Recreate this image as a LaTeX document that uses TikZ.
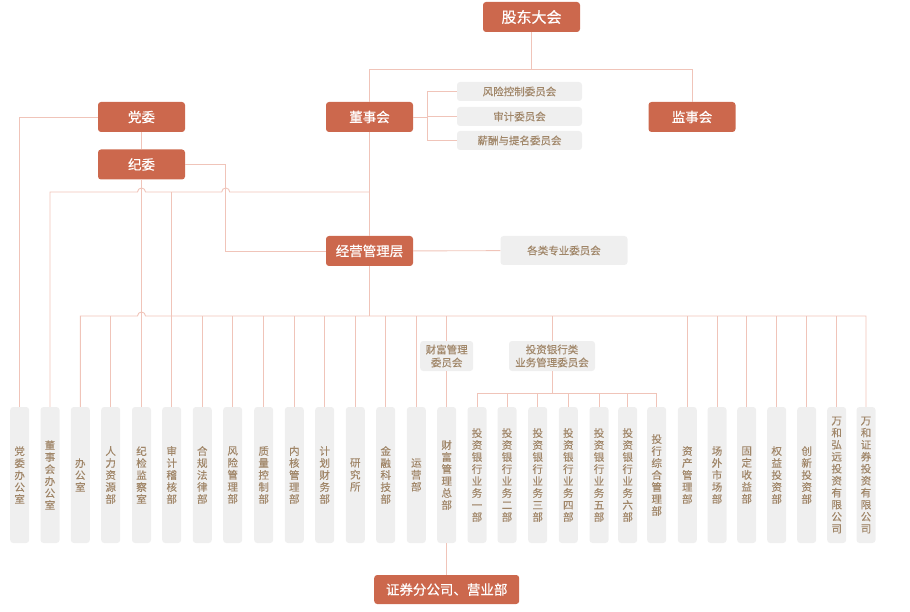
\documentclass[tikz,border=0pt]{standalone}
\usepackage{fontspec}
\setmainfont{Noto Sans CJK SC}
\newfontfamily\leadfont[FakeBold=0.5]{Noto Sans CJK SC}
\newfontfamily\deptfont[FakeBold=0.2]{Noto Sans CJK SC}
\definecolor{leadred}{RGB}{204,104,77}
\definecolor{linepink}{RGB}{240,196,185}
\definecolor{boxgrey}{RGB}{239,239,239}
\definecolor{textbrown}{RGB}{160,134,104}

\begin{document}
\begin{tikzpicture}
    [
        x=1pt, y=1pt,
        lead/.style={rectangle, rounded corners=3pt, fill=leadred, text=white, minimum width=87pt, minimum height=30pt, inner sep=0pt, font=\leadfont\fontsize{13.5}{16}\selectfont,},
        comm/.style={rectangle, rounded corners=3pt, fill=boxgrey, text=textbrown, inner sep=0pt, align=center, font=\deptfont\fontsize{10.5}{13}\selectfont,},
        dept/.style={rectangle, rounded corners=3pt, fill=boxgrey, text=textbrown, minimum width=19pt, minimum height=136pt, inner sep=0pt, align=center, font=\deptfont\fontsize{10.5}{12}\selectfont,},
        edge/.style={draw=linepink, line width=0.9pt,},
    ]
    \useasboundingbox (0,0) rectangle (910,-612);

    % leadership
    \node (gddh)  at (531.5,-17)    [lead, minimum width=97pt, font=\leadfont\fontsize{15}{18}\selectfont] {股东大会};
    \node (dsh)   at (369.5,-117)   [lead] {董事会};
    \node (jsh)   at (692,-117)     [lead] {监事会};
    \node (dw)    at (141.5,-117)   [lead] {党委};
    \node (jw)    at (141.5,-164.5) [lead] {纪委};
    \node (jyc)   at (369.5,-251)   [lead] {经营管理层};
    \node (zqfgs) at (446.7,-589.5) [lead, minimum width=145pt, minimum height=29pt] {证券分公司、营业部};

    % committees
    \node (fkwh) at (519.5,-91.5)  [comm, minimum width=125pt, minimum height=19pt] {风险控制委员会};
    \node (sjwh) at (519.5,-116.5) [comm, minimum width=125pt, minimum height=19pt] {审计委员会};
    \node (xcwh) at (519.5,-140.5) [comm, minimum width=125pt, minimum height=19pt] {薪酬与提名委员会};
    \node (zywh) at (564,-250.5)   [comm, minimum width=127pt, minimum height=29pt] {各类专业委员会};
    \node (cfwh) at (446.7,-356)   [comm, minimum width=53pt, minimum height=30pt] {财富管理\\委员会};
    \node (thwh) at (552,-356)     [comm, minimum width=86pt, minimum height=30pt] {投资银行类\\业务管理委员会};

    % departments
    \node (d1)  at (19.7,-475)  [dept] {党\\委\\办\\公\\室};
    \node (d2)  at (50,-475)    [dept] {董\\事\\会\\办\\公\\室};
    \node (d3)  at (80.3,-475)  [dept] {办\\公\\室};
    \node (d4)  at (110.7,-475) [dept] {人\\力\\资\\源\\部};
    \node (d5)  at (141.5,-475) [dept] {纪\\检\\监\\察\\室};
    \node (d6)  at (171.7,-475) [dept] {审\\计\\稽\\核\\部};
    \node (d7)  at (202.3,-475) [dept] {合\\规\\法\\律\\部};
    \node (d8)  at (232.7,-475) [dept] {风\\险\\管\\理\\部};
    \node (d9)  at (263.7,-475) [dept] {质\\量\\控\\制\\部};
    \node (d10) at (294.3,-475) [dept] {内\\核\\管\\理\\部};
    \node (d11) at (324.7,-475) [dept] {计\\划\\财\\务\\部};
    \node (d12) at (355.3,-475) [dept] {研\\究\\所};
    \node (d13) at (385.7,-475) [dept] {金\\融\\科\\技\\部};
    \node (d14) at (416.3,-475) [dept] {运\\营\\部};
    \node (d15) at (446.7,-475) [dept] {财\\富\\管\\理\\总\\部};
    \node (d16) at (477,-475)   [dept] {投\\资\\银\\行\\业\\务\\一\\部};
    \node (d17) at (507,-475)   [dept] {投\\资\\银\\行\\业\\务\\二\\部};
    \node (d18) at (537.7,-475) [dept] {投\\资\\银\\行\\业\\务\\三\\部};
    \node (d19) at (568.3,-475) [dept] {投\\资\\银\\行\\业\\务\\四\\部};
    \node (d20) at (599,-475)   [dept] {投\\资\\银\\行\\业\\务\\五\\部};
    \node (d21) at (627.7,-475) [dept] {投\\资\\银\\行\\业\\务\\六\\部};
    \node (d22) at (656.7,-475) [dept] {投\\行\\综\\合\\管\\理\\部};
    \node (d23) at (687.3,-475) [dept] {资\\产\\管\\理\\部};
    \node (d24) at (717,-475)   [dept] {场\\外\\市\\场\\部};
    \node (d25) at (746.7,-475) [dept] {固\\定\\收\\益\\部};
    \node (d26) at (776.7,-475) [dept] {权\\益\\投\\资\\部};
    \node (d27) at (806.7,-475) [dept] {创\\新\\投\\资\\部};
    \node (d28) at (836.7,-475) [dept] {万\\和\\弘\\远\\投\\资\\有\\限\\公\\司};
    \node (d29) at (866,-475)   [dept] {万\\和\\证\\券\\投\\资\\有\\限\\公\\司};

    % junctions
    \coordinate (topbus)  at (531.5,-69.5);
    \coordinate (dsfork)  at (427,-117);
    \coordinate (dwbus)   at (369.5,-192);
    \coordinate (deptbus) at (369.5,-316);
    \coordinate (ibbus)   at (552,-393.7);

    % top
    \draw [edge] (gddh) -- (topbus);
    \draw [edge] (dsh.north) |- (topbus) -| (jsh.north);
    \draw [edge] (dsh) -- (dsfork);
    \draw [edge] (dsfork) |- (fkwh.west);
    \draw [edge] (dsfork) |- (sjwh.west);
    \draw [edge] (dsfork) |- (xcwh.west);
    \draw [edge] (dsh) -- (jyc);
    \draw [edge] (jyc) -- (zywh);
    \draw [edge] (jyc) -- (deptbus);

    % party
    \draw [edge] (dw) -- (jw);
    \draw [edge] (dw.west) -| (d1.north);
    \draw [edge] (jw) -- (d5);
    \draw [edge] (jw.east) -- (225.7,-164.5) |- (jyc.west);
    \draw [edge] (dwbus) -- (229.7,-192) arc [start angle=0, end angle=180, radius=4]
        -- (145.5,-192) arc [start angle=0, end angle=180, radius=4]
        -- (d2.north |- dwbus) -- (d2.north);
    \draw [edge] (d6.north) -- (d6.north |- dwbus);

    % department bus
    \draw [edge] (d3.north) |- (137.5,-316) arc [start angle=180, end angle=0, radius=4]
        -- (d29.north |- deptbus) -- (d29.north);
    \draw [edge] (d4.north)  -- (d4.north |- deptbus);
    \draw [edge] (d7.north)  -- (d7.north |- deptbus);
    \draw [edge] (d8.north)  -- (d8.north |- deptbus);
    \draw [edge] (d9.north)  -- (d9.north |- deptbus);
    \draw [edge] (d10.north) -- (d10.north |- deptbus);
    \draw [edge] (d11.north) -- (d11.north |- deptbus);
    \draw [edge] (d12.north) -- (d12.north |- deptbus);
    \draw [edge] (d13.north) -- (d13.north |- deptbus);
    \draw [edge] (d14.north) -- (d14.north |- deptbus);
    \draw [edge] (d23.north) -- (d23.north |- deptbus);
    \draw [edge] (d24.north) -- (d24.north |- deptbus);
    \draw [edge] (d25.north) -- (d25.north |- deptbus);
    \draw [edge] (d26.north) -- (d26.north |- deptbus);
    \draw [edge] (d27.north) -- (d27.north |- deptbus);
    \draw [edge] (d28.north) -- (d28.north |- deptbus);

    % wealth
    \draw [edge] (cfwh) -- (cfwh |- deptbus);
    \draw [edge] (cfwh) -- (d15);
    \draw [edge] (d15) -- (zqfgs);

    % investment banking
    \draw [edge] (thwh) -- (thwh |- deptbus);
    \draw [edge] (thwh) -- (ibbus);
    \draw [edge] (d16.north) |- (ibbus) -| (d22.north);
    \draw [edge] (d17.north) -- (d17.north |- ibbus);
    \draw [edge] (d18.north) -- (d18.north |- ibbus);
    \draw [edge] (d19.north) -- (d19.north |- ibbus);
    \draw [edge] (d20.north) -- (d20.north |- ibbus);
    \draw [edge] (d21.north) -- (d21.north |- ibbus);

\end{tikzpicture}
\end{document}
